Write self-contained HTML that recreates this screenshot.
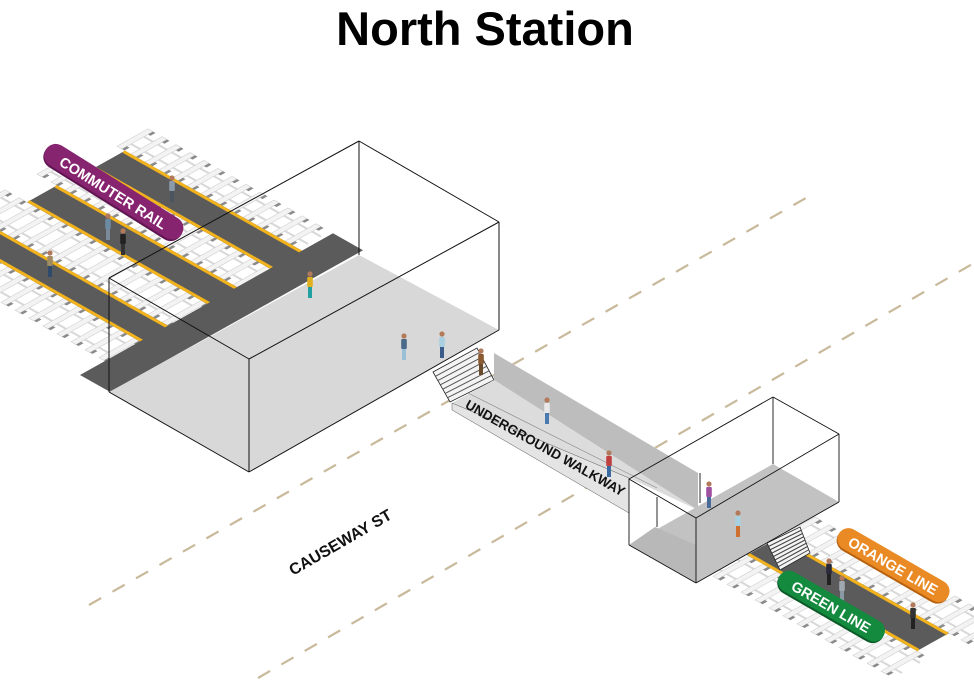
<!DOCTYPE html>
<html><head><meta charset="utf-8"><style>
html,body{margin:0;padding:0;background:#fff;}
svg{display:block;}
text{font-family:"Liberation Sans",Arial,sans-serif;font-weight:bold;}
</style></head><body>
<svg id="s" width="974" height="681" viewBox="0 0 974 681" xmlns="http://www.w3.org/2000/svg">
<rect width="974" height="681" fill="#fff"/>
<text x="485" y="45" font-size="47" text-anchor="middle" fill="#000">North Station</text>
<g id="road" stroke="#c9b99b" stroke-width="2.2" stroke-dasharray="14,13" fill="none">
<line x1="89" y1="605" x2="806" y2="198"/>
<line x1="258" y1="678" x2="974" y2="263"/>
</g>
<g id="g"></g>
<g id="top">
<text x="0" y="0" font-size="16" transform="translate(343,547) rotate(-30)" text-anchor="middle" fill="#111">CAUSEWAY ST</text>
<text x="0" y="0" font-size="13.5" transform="translate(543,452) rotate(29.5)" text-anchor="middle" fill="#111">UNDERGROUND WALKWAY</text>
<g transform="translate(113,193) rotate(32)">
<rect x="-80" y="-12" width="160" height="24" rx="12" fill="#5e1450"/>
<rect x="-80" y="-13" width="160" height="23" rx="11.5" fill="#86246f"/>
<text x="0" y="5" font-size="14.5" text-anchor="middle" fill="#fff">COMMUTER RAIL</text>
</g>
<g transform="translate(893,566) rotate(30)">
<rect x="-63" y="-11" width="126" height="23" rx="11.5" fill="#b8620f"/>
<rect x="-63" y="-12" width="126" height="22" rx="11" fill="#ea8a24"/>
<text x="0" y="5" font-size="14.5" text-anchor="middle" fill="#fff">ORANGE LINE</text>
</g>
<g transform="translate(831,607) rotate(30)">
<rect x="-60" y="-11" width="120" height="23" rx="11.5" fill="#0b5a28"/>
<rect x="-60" y="-12" width="120" height="22" rx="11" fill="#138a3e"/>
<text x="0" y="5" font-size="14.5" text-anchor="middle" fill="#fff">GREEN LINE</text>
</g>
</g>
</svg>
<script>
(function(){
var NS="http://www.w3.org/2000/svg",g=document.getElementById('g');
function el(n,a){var e=document.createElementNS(NS,n);for(var k in a)e.setAttribute(k,a[k]);g.appendChild(e);return e;}
function poly(p,f,st,sw){el('polygon',{points:p.map(function(q){return q[0].toFixed(1)+','+q[1].toFixed(1)}).join(' '),fill:f,stroke:st||'none','stroke-width':sw||0});}
function line(a,b,st,sw){el('line',{x1:a[0],y1:a[1],x2:b[0],y2:b[1],stroke:st,'stroke-width':sw});}
function mk(o){return function(t,s){return [o[0]+t+s, o[1]-0.56*t+0.565*s];};}
function track(P,t0,t1,s0,s1){
  line(P(t0+9,s0),P(t0+9,s1),'#d8d8d8',2);line(P(t1-9,s0),P(t1-9,s1),'#d8d8d8',2);
  for(var s=s0;s<s1;s+=14){
    poly([P(t0,s),P(t1,s),P(t1,s+5),P(t0,s+5)],'#f3f3f3','#cfcfcf',0.6);
    poly([P(t0,s+5),P(t0+5,s+5),P(t0+5,s+7.5),P(t0,s+7.5)],'#8a8a8a');
    poly([P(t1-5,s+5),P(t1,s+5),P(t1,s+7.5),P(t1-5,s+7.5)],'#8a8a8a');
  }
}
function plat(P,ta,tb,s0,s1){
  poly([P(ta,s0),P(tb,s0),P(tb,s1),P(ta,s1)],'#5b5b5b');
  line(P(ta+1.5,s0),P(ta+1.5,s1),'#f2b21c',3);line(P(tb-1.5,s0),P(tb-1.5,s1),'#f2b21c',3);
}
var P=mk([80,375]);
track(P,222,253,-185,-3);track(P,157,190,-200,-3);track(P,88,127,-300,-3);track(P,25,60,-300,-3);
plat(P,190,222,-177,1);plat(P,127,157,-180,1);plat(P,60,88,-260,1);
poly([P(0,0),P(253,0),P(253,30),P(0,30)],'#5b5b5b');
poly([[109,392],[359,255],[499,330],[249,472]],'#d8d8d8');
poly([[433,372],[477,348],[494,380],[450,402]],'#f4f4f4','#222',0.8);
for(var i=1;i<7;i++){var f=i/7;line([433+17*f,372+30*f],[477+17*f,348+32*f],'#555',1);}
poly([[494,353],[698,473],[698,510],[494,380]],'#bdbdbd');
poly([[494,380],[698,510],[629,478],[452,403]],'#dcdcdc');
poly([[452,403],[629,478],[629,513],[452,410]],'#e4e4e4','#555',0.5);
line([468,393],[657,488],'#888',0.6);
var L='#111';
[[[359,141],[499,222]],[[499,222],[249,359]],[[249,359],[109,278]],[[109,278],[359,141]],
 [[109,278],[109,392]],[[249,359],[249,472]],[[499,222],[499,330]],[[359,141],[359,255]],
 [[109,392],[249,472]],[[249,472],[499,330]]].forEach(function(l){line(l[0],l[1],L,1);});
var Q=mk([747,555]);
track(Q,-36,0,-40,182);track(Q,32,68,0,225);
plat(Q,0,32,0,170);
poly([[629,545],[696,583],[839,502],[773,464]],'#c2c2c2');
poly([[629,545],[696,583],[696,545],[655,527]],'#b8b8b8');
poly([[767,543],[800,527],[810,553],[780,570]],'#f4f4f4','#222',0.8);
for(var j=1;j<8;j++){var h=j/8;line([767+13*h,543+27*h],[800+10*h,527+26*h],'#444',1);}
[[[773,397],[839,434]],[[839,434],[696,518]],[[696,518],[629,479]],[[629,479],[773,397]],
 [[629,479],[629,545]],[[696,518],[696,583]],[[839,434],[839,502]],[[773,397],[773,464]],
 [[629,545],[696,583]],[[696,583],[839,502]],[[700,473],[700,503]],[[657,497],[657,527]]].forEach(function(l){line(l[0],l[1],L,0.9);});
function person(x,y,sh,pa){
  el('rect',{x:x-2,y:y-11,width:4,height:11,fill:pa});
  el('rect',{x:x-2.8,y:y-21,width:5.6,height:10,fill:sh,rx:1});
  el('circle',{cx:x,cy:y-24,r:2.6,fill:'#b27a5a'});
}
[[172,202,'#8a9aa8','#4a5560'],[108,240,'#6c8aa0','#7a8a98'],[123,255,'#222','#333'],[50,277,'#a08a60','#2f4a6a'],
 [310,298,'#e0b020','#20a0a0'],[404,360,'#4a6a8a','#9ac0d8'],[442,358,'#a8d0e0','#3a5a8a'],[481,375,'#8a5a30','#6a4a2a'],
 [547,424,'#e8e8e8','#4a7ab0'],[609,477,'#c04040','#3a6aa0'],[709,508,'#a050a0','#4a6a9a'],[738,537,'#a8d0e0','#d07030'],
 [829,585,'#2a2a3a','#222'],[842,602,'#a0a8b0','#8a98a4'],[913,629,'#333','#222']].forEach(function(p){person(p[0],p[1],p[2],p[3]);});
document.getElementById('s').appendChild(document.getElementById('top'));
})();
</script>
</body></html>
